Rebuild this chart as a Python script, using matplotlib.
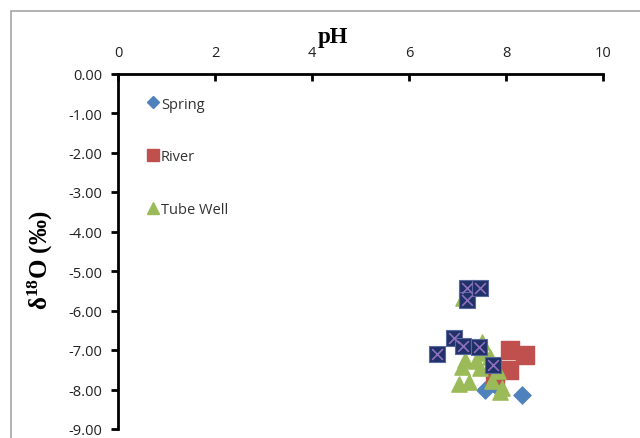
import matplotlib
matplotlib.use("Agg")
import matplotlib.pyplot as plt
from matplotlib.patches import Rectangle
from matplotlib.lines import Line2D

plt.rcParams['mathtext.fontset'] = 'custom'
plt.rcParams['mathtext.rm'] = 'Liberation Serif'
plt.rcParams['mathtext.bf'] = 'Liberation Serif:bold'
plt.rcParams['mathtext.it'] = 'Liberation Serif:italic'

# Data
spring_ph = [7.57, 8.33, 7.77]
spring_d18o = [-8.01, -8.14, -7.89]

river_ph = [8.08, 8.39, 8.06, 7.77]
river_d18o = [-7.00, -7.13, -7.51, -7.66]

tube_ph = [7.11, 7.51, 7.53, 7.15, 7.38, 7.67, 7.09, 7.46, 7.03, 7.24, 7.71, 7.92, 7.88, 7.84]
tube_d18o = [-5.68, -6.80, -7.08, -7.25, -7.28, -7.18, -7.43, -7.46, -7.86, -7.81, -7.78, -7.96, -8.06, -7.53]

other_ph = [7.20, 7.20, 7.46, 6.93, 7.11, 7.44, 6.58, 7.73]
other_d18o = [-5.43, -5.73, -5.43, -6.70, -6.90, -6.92, -7.10, -7.38]

x_ticks = [0, 2, 4, 6, 8, 10]
y_ticks = [0, -1, -2, -3, -4, -5, -6, -7, -8, -9]

fig = plt.figure(figsize=(6.4, 4.39), dpi=100)
ax = fig.add_axes([118/640, 1-430/439, (603-118)/640, (430-74.5)/439])

# figure border
fig.patches.append(Rectangle((11/640, -0.1), 1.2, 1-12/439+0.1, transform=fig.transFigure,
                             fill=False, edgecolor='#a6a6a6', linewidth=1.2))

blue = '#4F81BD'
red = '#C0504D'
green = '#9BBB59'
navy = '#1F3166'
purple = '#8F6FC0'

ax.scatter(spring_ph, spring_d18o, marker='D', s=75, color=blue, edgecolors='#4F81BD', zorder=3)
ax.scatter(river_ph, river_d18o, marker='s', s=150, color=red, edgecolors='#C0504D', zorder=3)
ax.scatter(tube_ph, tube_d18o, marker='^', s=120, color=green, edgecolors=green, zorder=4)
ax.scatter(other_ph, other_d18o, marker='s', s=120, color=navy, edgecolors='#5a6aa0', linewidths=0.8, zorder=5)
ax.scatter(other_ph, other_d18o, marker='x', s=60, color=purple, linewidths=1.2, zorder=6)

ax.set_xlim(0, 10)
ax.set_ylim(-9, 0)
ax.set_xticks(x_ticks)
ax.set_yticks(y_ticks)
ax.set_yticklabels([f"{v:.2f}" for v in y_ticks])
ax.xaxis.tick_top()
ax.xaxis.set_label_position('top')
ax.spines['bottom'].set_visible(False)
ax.spines['right'].set_visible(False)
ax.spines['top'].set_linewidth(2)
ax.spines['left'].set_linewidth(2)
ax.tick_params(axis='x', direction='in', length=5, width=2, labelsize=10.5, pad=10, colors='black', labelcolor='#222222')
ax.tick_params(axis='y', direction='out', length=5, width=2, labelsize=10.5, pad=6, labelcolor='#222222')
for lab in ax.get_xticklabels() + ax.get_yticklabels():
    lab.set_fontfamily(['Open Sans', 'DejaVu Sans'])

ax.set_xlabel('pH', fontsize=16.5, fontweight='bold', family='Liberation Serif')
ax.set_ylabel(r'$\mathbf{\delta^{18}O}$ (‰)', fontsize=18, fontweight='bold',
              family=['Liberation Serif', 'DejaVu Serif'])
ax.yaxis.set_label_coords(-0.13, 0.478)
ax.xaxis.set_label_coords(0.443, 1.088)

handles = [
    Line2D([], [], marker='D', linestyle='none', color=blue, markersize=6),
    Line2D([], [], marker='s', linestyle='none', color=red, markersize=9),
    Line2D([], [], marker='^', linestyle='none', color=green, markersize=9),
]
leg = ax.legend(handles, ['Spring', 'River', 'Tube Well'], loc='upper left',
                bbox_to_anchor=(0.03, 0.972), frameon=False, labelspacing=2.6,
                handletextpad=0.05, handlelength=1.0, prop={'family': 'Open Sans', 'size': 10.5})
for t in leg.get_texts():
    t.set_color('#333333')

fig.savefig('out.png', dpi=100)
